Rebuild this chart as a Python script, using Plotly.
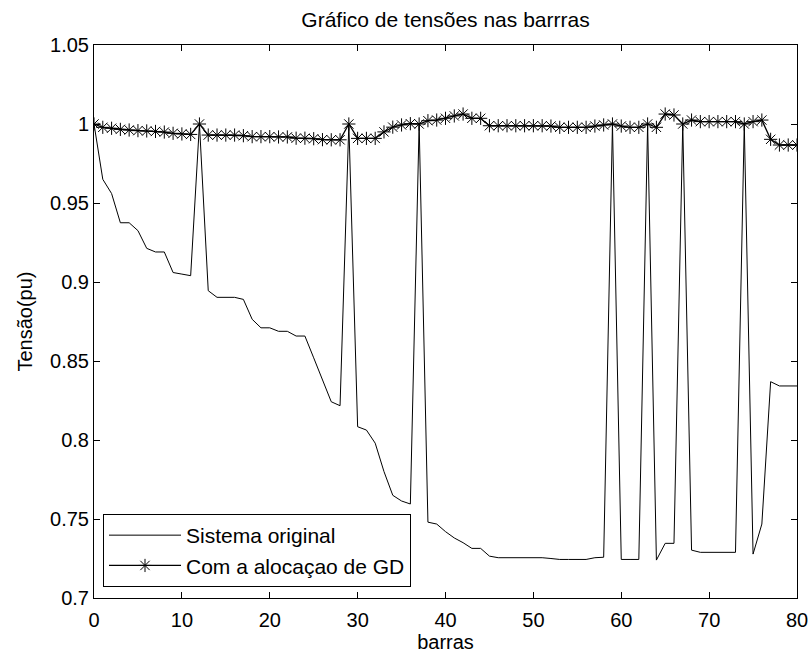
import plotly.graph_objects as go

barras = list(range(0, 81))

sistema_original = [
    1.0, 0.965, 0.956, 0.9375, 0.9375, 0.9325, 0.9213, 0.919, 0.919, 0.906,
    0.905, 0.904, 1.0, 0.8945, 0.8903, 0.8903, 0.8903, 0.889, 0.8764, 0.871,
    0.871, 0.8688, 0.8688, 0.8658, 0.8658, 0.852, 0.838, 0.8242, 0.8217, 1.0,
    0.8084, 0.8063, 0.798, 0.780, 0.765, 0.7614, 0.7595, 1.0, 0.748, 0.7468,
    0.742, 0.738, 0.735, 0.7314, 0.7314, 0.7265, 0.7255, 0.7255, 0.7255, 0.7255,
    0.7255, 0.7255, 0.7250, 0.7244, 0.7244, 0.7244, 0.7244, 0.7255, 0.7258, 1.0,
    0.7244, 0.7244, 0.7244, 1.0, 0.724, 0.7346, 0.7346, 1.0, 0.7303, 0.7289,
    0.7289, 0.7289, 0.7289, 0.7289, 1.0, 0.7278, 0.7468, 0.8369, 0.8342, 0.8342,
    0.8342,
]

com_gd = [
    1.0, 0.9979, 0.9973, 0.9966, 0.9962, 0.9958, 0.9956, 0.9953, 0.9949, 0.9941,
    0.9937, 0.9934, 1.0, 0.993, 0.993, 0.993, 0.993, 0.9926, 0.992, 0.992,
    0.992, 0.9918, 0.9918, 0.991, 0.991, 0.9907, 0.9901, 0.99, 0.99, 1.0,
    0.9909, 0.9909, 0.9909, 0.995, 0.998, 0.9994, 1.0002, 1.0, 1.0021, 1.0025,
    1.0036, 1.0051, 1.0063, 1.0036, 1.0036, 0.9989, 0.9989, 0.9989, 0.9989, 0.9989,
    0.9989, 0.9989, 0.9987, 0.9979, 0.9979, 0.9979, 0.9979, 0.9987, 0.9994, 1.0,
    0.9987, 0.9979, 0.9979, 1.0, 0.9979, 1.0063, 1.0057, 1.0, 1.0025, 1.0015,
    1.0015, 1.0015, 1.0015, 1.0015, 1.0, 1.0015, 1.0025, 0.9903, 0.9867, 0.9867,
    0.9867,
]

x_tick_vals = [0, 10, 20, 30, 40, 50, 60, 70, 80]
x_tick_text = ["0", "10", "20", "30", "40", "50", "60", "70", "80"]
y_tick_vals = [0.7, 0.75, 0.8, 0.85, 0.9, 0.95, 1.0, 1.05]
y_tick_text = ["0.7", "0.75", "0.8", "0.85", "0.9", "0.95", "1", "1.05"]

FONT = "Liberation Sans, Arial, sans-serif"

fig = go.Figure()
fig.add_trace(go.Scatter(
    x=barras, y=sistema_original, mode="lines", name="Sistema original",
    line=dict(color="black", width=1), legendgroup="a",
))
fig.add_trace(go.Scatter(
    x=barras, y=com_gd, mode="lines+markers", name="Com a alocaçao de GD",
    line=dict(color="black", width=1.3),
    marker=dict(symbol="asterisk-open", size=11, color="black",
                line=dict(color="black", width=1)),
    legendgroup="b",
))

axis_common = dict(
    showline=True, linecolor="black", linewidth=1, mirror="ticks",
    ticks="inside", ticklen=6, tickcolor="black", tickwidth=1,
    showgrid=False, zeroline=False, automargin=False,
    tickfont=dict(family=FONT, size=20, color="black"),
)

fig.update_layout(
    width=812, height=655,
    margin=dict(l=94, r=15, t=45, b=57),
    paper_bgcolor="white", plot_bgcolor="white",
    font=dict(family=FONT, size=20, color="black"),
    title=dict(text="Gráfico de tensões nas barrras", x=0.5, xref="paper",
               y=1 - 20 / 655, yref="container", yanchor="middle",
               font=dict(family=FONT, size=21, color="black")),
    xaxis=dict(range=[0, 80], tickvals=x_tick_vals, ticktext=x_tick_text,
               ticklabelstandoff=4,
               title=dict(text="barras", standoff=3,
                          font=dict(family=FONT, size=20, color="black")),
               **axis_common),
    yaxis=dict(range=[0.7, 1.05], tickvals=y_tick_vals, ticktext=y_tick_text,
               title=dict(text="Tensão(pu)", standoff=12,
                          font=dict(family=FONT, size=20, color="black")),
               **axis_common),
    legend=dict(x=(103 - 94) / 703, y=(598 - 587) / 553, xanchor="left", yanchor="bottom",
                bgcolor="white", bordercolor="black", borderwidth=1,
                font=dict(family=FONT, size=21, color="black"),
                itemwidth=72, tracegroupgap=0),
    showlegend=True,
)

fig.write_html("out.html")
